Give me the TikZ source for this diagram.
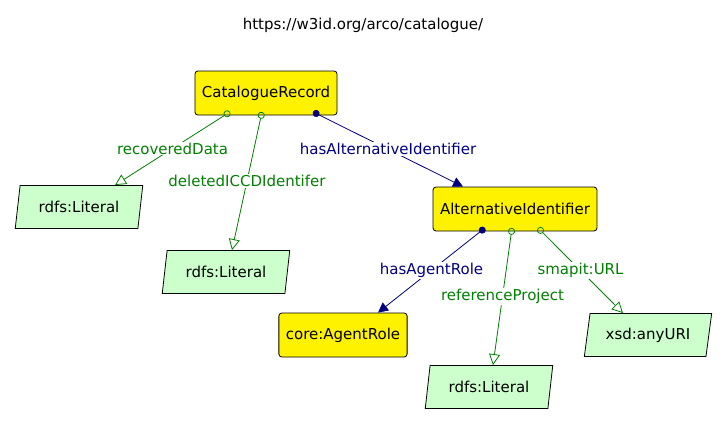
\documentclass[tikz,border=0pt]{standalone}
\usepackage{fontspec}
\setmainfont{DejaVu Sans}
\usepackage{tikz}
\usetikzlibrary{arrows.meta}
\usetikzlibrary{shapes.geometric}
\definecolor{litgreen}{RGB}{204,255,204}
\definecolor{propgreen}{RGB}{0,128,0}
\definecolor{propnavy}{RGB}{0,0,128}
\tikzset{
  classbox/.style={draw, line width=0.8pt, fill=yellow, rounded corners=3pt, minimum height=44pt, inner xsep=7pt},
  litbox/.style={draw, line width=0.8pt, fill=litgreen, trapezium, trapezium left angle=74, trapezium right angle=106,
    trapezium stretches=true, minimum width=128pt, minimum height=43pt, inner sep=0pt},
  dataprop/.style={draw=propgreen, line width=0.8pt, {Circle[open,length=7pt]}-{Triangle[open,length=11pt,width=11pt]}},
  objprop/.style={draw=propnavy, line width=0.8pt, {Circle[length=7pt]}-{Triangle[length=10pt,width=10pt]}},
  datalabel/.style={midway, fill=white, text=propgreen, inner sep=1pt},
  objlabel/.style={midway, fill=white, text=propnavy, inner sep=1pt}
}

\begin{document}
\begin{tikzpicture}[x=1pt,y=-1pt,font=\fontsize{15}{18}\selectfont]
\useasboundingbox (0,0) rectangle (726,424);
\node (title) at (363,25) {https://w3id.org/arco/catalogue/};
\node[classbox] (record) at (266,93) {CatalogueRecord};
\node[classbox] (altid) at (515,209) {AlternativeIdentifier};
\node[classbox] (agent) at (343,335) {core:AgentRole};
\node[litbox] (lit1) at (79,207) {rdfs:Literal};
\node[litbox] (lit2) at (226,272) {rdfs:Literal};
\node[litbox] (lit3) at (489,387) {rdfs:Literal};
\node[litbox] (uri) at (648,335) {xsd:anyURI};
% properties of the record
\draw[dataprop] ([xshift=-36pt,yshift=3.5pt]record.south) -- ([xshift=36pt]lit1.north) node[datalabel] {recoveredData};
\draw[dataprop] ([xshift=-4pt,yshift=3.5pt]record.south) -- ([xshift=6pt]lit2.north) node[datalabel] {deletedICCDIdentifer};
\draw[objprop] ([xshift=47pt,yshift=3.5pt]record.south) -- ([xshift=-52pt]altid.north) node[objlabel] {hasAlternativeIdentifier};
% properties of the identifier
\draw[objprop] ([xshift=-30pt,yshift=3.5pt]altid.south) -- ([xshift=35pt]agent.north) node[objlabel] {hasAgentRole};
\draw[dataprop] ([xshift=-3pt,yshift=3.5pt]altid.south) -- ([xshift=4pt]lit3.north) node[datalabel] {referenceProject};
\draw[dataprop] ([xshift=23pt,yshift=3.5pt]altid.south) -- ([xshift=-25pt]uri.north) node[datalabel] {smapit:URL};
\end{tikzpicture}
\end{document}
